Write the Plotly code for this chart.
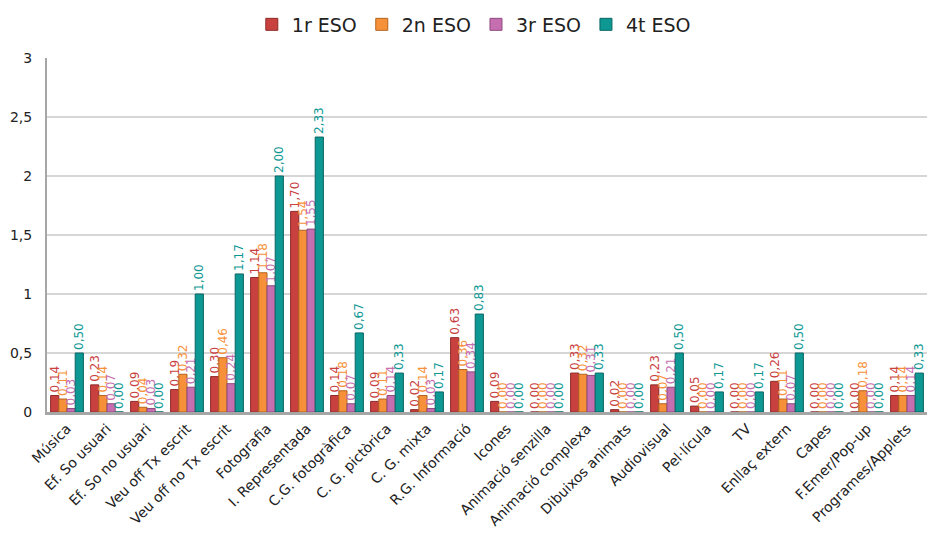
import plotly.graph_objects as go

categories = [
    "Música", "Ef. So usuari", "Ef. So no usuari", "Veu off Tx escrit",
    "Veu off no Tx escrit", "Fotografia", "I. Representada", "C.G. fotogràfica",
    "C. G. pictòrica", "C. G. mixta", "R.G. Informació", "Icones",
    "Animació senzilla", "Animació complexa", "Dibuixos animats", "Audiovisual",
    "Pel·lícula", "TV", "Enllaç extern", "Capes", "F.Emer/Pop-up",
    "Programes/Applets",
]

eso1 = [0.14, 0.23, 0.09, 0.19, 0.30, 1.14, 1.70, 0.14, 0.09, 0.02, 0.63,
        0.09, 0.00, 0.33, 0.02, 0.23, 0.05, 0.00, 0.26, 0.00, 0.00, 0.14]
eso2 = [0.11, 0.14, 0.04, 0.32, 0.46, 1.18, 1.54, 0.18, 0.11, 0.14, 0.36,
        0.00, 0.00, 0.32, 0.00, 0.07, 0.00, 0.00, 0.11, 0.00, 0.18, 0.14]
eso3 = [0.03, 0.07, 0.03, 0.21, 0.24, 1.07, 1.55, 0.07, 0.14, 0.03, 0.34,
        0.00, 0.00, 0.31, 0.00, 0.21, 0.00, 0.00, 0.07, 0.00, 0.00, 0.14]
eso4 = [0.50, 0.00, 0.00, 1.00, 1.17, 2.00, 2.33, 0.67, 0.33, 0.17, 0.83,
        0.00, 0.00, 0.33, 0.00, 0.50, 0.17, 0.17, 0.50, 0.00, 0.00, 0.33]

series = [
    ("1r ESO", eso1, "#C9413F", "#8E2A28"),
    ("2n ESO", eso2, "#F79139", "#B3631E"),
    ("3r ESO", eso3, "#C66FB0", "#8E4A7E"),
    ("4t ESO", eso4, "#0E9894", "#086663"),
]

y_ticks = [0, 0.5, 1, 1.5, 2, 2.5, 3]
y_tick_text = ["0", "0,5", "1", "1,5", "2", "2,5", "3"]

fig = go.Figure()
for name, vals, color, edge in series:
    fig.add_trace(go.Bar(
        name=name,
        x=categories,
        y=vals,
        marker=dict(color=color, line=dict(color=edge, width=1)),
        texttemplate="%{y:.2f}",
        textposition="outside",
        textangle=-90,
        constraintext="none",
        cliponaxis=False,
        textfont=dict(family="DejaVu Sans", size=12, color=color),
    ))

fig.update_layout(
    width=931,
    height=549,
    margin=dict(l=47, r=4, t=58, b=137),
    paper_bgcolor="white",
    plot_bgcolor="white",
    separators=",.",
    barmode="group",
    bargap=0.18,
    bargroupgap=0.0,
    font=dict(family="DejaVu Sans", color="#222222"),
    legend=dict(
        orientation="h",
        x=0.485,
        xanchor="center",
        y=0.99,
        yref="container",
        yanchor="top",
        font=dict(size=19, color="#222222"),
        itemwidth=30,
        traceorder="normal",
    ),
    showlegend=True,
)

fig.update_yaxes(
    range=[0, 3],
    tickvals=y_ticks,
    ticktext=y_tick_text,
    showgrid=True,
    gridcolor="#D6D6D6",
    gridwidth=2,
    showline=True,
    linecolor="#A6A6A6",
    linewidth=2,
    zeroline=False,
    tickfont=dict(size=14, color="#222222"),
    ticks="",
    ticklabelstandoff=10,
)

fig.update_xaxes(
    tickangle=-45,
    tickfont=dict(size=14, color="#222222"),
    showline=True,
    linecolor="#A6A6A6",
    linewidth=3,
    ticks="",
)

fig.write_html("out.html")
